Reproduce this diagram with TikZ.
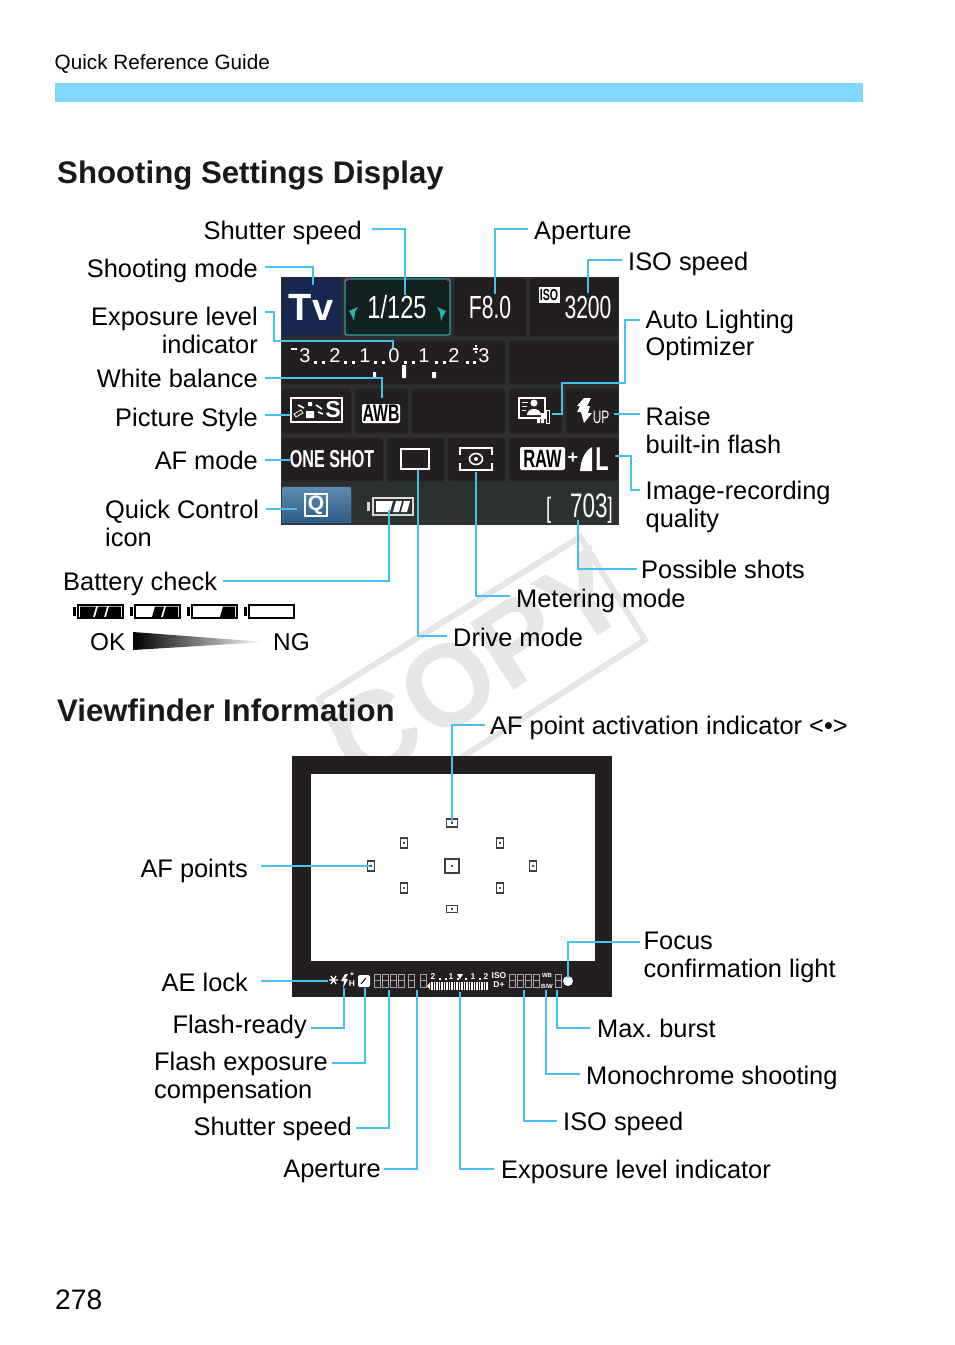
\documentclass[tikz,border=0pt]{standalone}
\usepackage{fontspec}
\setmainfont{Liberation Sans}
\newfontfamily\lcdfont[FakeStretch=0.66]{Liberation Sans}
\newfontfamily\lcdwide[FakeStretch=0.74]{Liberation Sans}
\usetikzlibrary{positioning, calc}
\definecolor{cyline}{HTML}{45C1EC}
\definecolor{barblue}{HTML}{80D8FF}
\definecolor{lcdback}{HTML}{2D3031}
\definecolor{lcdcell}{HTML}{231F20}
\definecolor{tvblue}{HTML}{17274F}
\definecolor{teal}{HTML}{2E9AA0}
\definecolor{tealbright}{HTML}{29B5B5}
\definecolor{tealdark}{HTML}{12211F}
\definecolor{stamp}{HTML}{E6E6E6}
\definecolor{qtop}{HTML}{5F8BB0}
\definecolor{qbot}{HTML}{2B5B85}
\tikzstyle{line} = [draw=cyline, line width=2.1pt]
\tikzstyle{lbl} = [inner sep=0pt, text height=18pt, text depth=0pt, font=\fontsize{25.4}{27.8}\selectfont]
\tikzstyle{lbltwo} = [inner sep=0pt, font=\fontsize{25.4}{27.8}\selectfont]
\tikzstyle{head} = [inner sep=0pt, anchor=base west, font=\fontsize{31.2}{36}\selectfont\bfseries, text=black!90]
\tikzstyle{lcd} = [inner sep=0pt, text=white]
\tikzstyle{cell} = [fill=lcdcell, draw=lcdcell!60!lcdback, line width=.6pt, rounded corners=2pt]
\tikzstyle{afpt} = [draw=black!75, line width=1.2pt, fill=white]
\tikzstyle{seg} = [draw=black!35, line width=.7pt]
\tikzstyle{tiny} = [inner sep=0pt, text=white, font=\fontsize{8.5}{8.5}\selectfont\bfseries]
\frenchspacing
\begin{document}
\begin{tikzpicture}[x=1pt, y=-1pt]
  \useasboundingbox (0,0) rectangle (954,1345);
  \fill[white] (0,0) rectangle (954,1345);
  %%% Stamp behind everything:
  \draw[stamp, line width=6pt] (319,699) -- (580,537) -- (645,640) -- (378,811) -- cycle;
  \node[inner sep=0pt, rotate=33, text=stamp, font=\fontsize{116}{116}\selectfont\bfseries] (stampword) at (478,666) {COPY};
  %%% Page head:
  \node[inner sep=0pt, anchor=base west, font=\fontsize{20.7}{24}\selectfont] (guide) at (54.5,69) {Quick Reference Guide};
  \fill[barblue] (55,83) rectangle (863,102);
  \node[head] (settings) at (57,183) {Shooting Settings Display};
  \node[head] (finder) at (57,721) {Viewfinder Information};
  \node[inner sep=0pt, anchor=base west, font=\fontsize{28.2}{32}\selectfont] (page) at (55,1309) {278};
  %%% Display cells:
  \fill[lcdback] (281,277) rectangle (619,525);
  \foreach \xa/\ya/\xb/\yb in {454/278/526/336, 530/278/618/336, 282/341/505/384, 509/341/618/384,
    282/389/351/433, 355/389/408/433, 412/389/505/433, 509/389/562/433, 566/389/618/433,
    282/438/383/481, 387/438/444/481, 448/438/505/481, 509/438/618/481}
    \draw[cell] (\xa,\ya) rectangle (\xb,\yb);
  \draw[cell, fill=tvblue] (282,278) rectangle (341,336);
  \draw[fill=tealdark, draw=teal, line width=1.4pt, rounded corners=2pt] (345,279) rectangle (450,335);
  \fill[magenta] (346,279) rectangle +(2,2) (447,279) rectangle +(2,2);
  \fill[tealbright] (349,311) -- (358,307) -- (355,312) -- (354,321) -- (352,316) -- cycle;
  \fill[tealbright] (446,311) -- (437,307) -- (440,312) -- (441,321) -- (443,316) -- cycle;
  %%% Top row:
  \node[lcd, font=\fontsize{38}{38}\selectfont\bfseries] (tv) at (311,307) {Tv};
  \node[lcd, font=\fontsize{32}{32}\selectfont\lcdwide] (time) at (397,307) {1/125};
  \node[lcd, font=\fontsize{32}{32}\selectfont\lcdfont] (fnum) at (490,307) {F8.0};
  \node[fill=white, inner sep=0pt, minimum width=21pt, minimum height=16pt, text=black, font=\fontsize{16}{16}\selectfont\lcdfont\bfseries] (isobox) at (549,295) {ISO};
  \node[lcd, font=\fontsize{32}{32}\selectfont\lcdfont] (isoval) at (588,307) {3200};
  %%% Exposure scale:
  \foreach \sx/\sd in {305/3, 335/2, 365/1, 394/0, 424/1, 454/2, 484/3}
    \node[lcd, font=\fontsize{20}{20}\selectfont] (sc\sx) at (\sx,356) {\sd};
  \foreach \sx in {315,323,345,353,375,383,405,413,436,444,467,474}
    \fill[white] (\sx-1,361) rectangle +(2.6,2.6);
  \fill[white] (291,348) rectangle +(6,1.8) (473,348) rectangle +(5,1.8);
  \fill[white] (475,351) rectangle +(1.8,2) (475,345) rectangle +(1.8,2);
  \fill[white] (373,372) rectangle (376,377) (402,365) rectangle (406,378) (432,372) rectangle (436,378);
  %%% Third row:
  \draw[white, line width=2.4pt] (291,398) rectangle (342,422);
  \node[lcd, font=\fontsize{23}{23}\selectfont\bfseries] (psletter) at (333,410) {S};
  \fill[white] (306,411) -- (314,411) -- (314,418) -- (306,418) -- cycle (308,402) rectangle +(4,4);
  \draw[white, line width=1.6pt] (298,405) -- (304,408) (316,405) -- (322,409) (318,412) -- (323,414);
  \draw[white, line width=.8pt] (294,414) -- (301,410) -- (303,413) -- (296,417) -- cycle;
  \node[fill=white, rounded corners=1.5pt, inner sep=0pt, minimum width=38pt, minimum height=19pt, text=black, font=\fontsize{24}{24}\selectfont\lcdfont\bfseries] (awb) at (381,413.5) {AWB};
  \draw[white, line width=1.2pt] (519,398) rectangle (545,418);
  \fill[white] (534,403) circle (3.5pt) (527,415) .. controls (527,407) and (541,407) .. (541,415) -- cycle;
  \draw[white, line width=1pt] (522,402) -- (528,402) (522,406) -- (527,406) (522,410) -- (526,410);
  \fill[white] (537,417) rectangle +(3,6) (541,413) rectangle +(3,10);
  \draw[white, line width=.7pt] (546,410) rectangle (549,423);
  \fill[white] (584,398) -- (591,398) -- (587,406) -- (590,406) -- (588,413) -- (592,413) -- (584,423) -- (581,412) -- (577,412) -- (580,406) -- (577,406) -- cycle;
  \node[lcd, font=\fontsize{18}{18}\selectfont\lcdfont] (flashup) at (601,417) {UP};
  %%% Fourth row:
  \node[lcd, font=\fontsize{24.5}{24.5}\selectfont\lcdfont\bfseries] (oneshot) at (332,459) {ONE SHOT};
  \draw[white, line width=2.8pt] (401,449) rectangle (429,469);
  \draw[white, line width=2pt] (460,455) -- (460,448) -- (492,448) -- (492,455) (460,463) -- (460,470) -- (492,470) -- (492,463);
  \draw[white, line width=1.6pt] (476,459) ellipse (6.5pt and 5.5pt);
  \fill[white] (476,459) circle (2pt);
  \node[fill=white, rounded corners=2pt, inner sep=0pt, minimum width=45pt, minimum height=23pt, text=black, font=\fontsize{25}{25}\selectfont\lcdfont\bfseries] (rawbox) at (542.5,458.5) {RAW};
  \node[lcd, font=\fontsize{18}{18}\selectfont\bfseries] (plus) at (573,458) {+};
  \fill[white] (580,471) .. controls (581,459) and (585,451) .. (592,447) -- (592,471) -- cycle;
  \node[lcd, font=\fontsize{33}{33}\selectfont\lcdfont\bfseries] (quall) at (602,459) {L};
  %%% Bottom row:
  \shade[top color=qtop, bottom color=qbot, draw=qtop, rounded corners=2pt] (282,487) rectangle (351,523);
  \draw[white, line width=1.6pt] (305,494) rectangle (327,516);
  \node[lcd, font=\fontsize{21}{21}\selectfont\bfseries] (qmark) at (316,505) {Q};
  \fill[white!85!black] (367,502) rectangle (370,511);
  \draw[white!85!black, line width=1.4pt] (373,498) rectangle (413,515);
  \fill[white] (376,501) -- (393,501) -- (390,512) -- (376,512) -- cycle;
  \foreach \bx in {396,404} \fill[white] (\bx,501) -- +(6,0) -- +(3,11) -- +(-3,11) -- cycle;
  \node[lcd, anchor=east, font=\fontsize{34}{34}\selectfont\lcdfont] (shots) at (613,509) {\fontsize{28}{28}\selectfont{[}\hspace{19pt}\fontsize{34}{34}\selectfont 703\fontsize{28}{28}\selectfont{]}};
  %%% Battery row:
  \foreach \bx/\nbar in {73/3, 130/2, 187/1, 244/0} {
    \fill[black] (\bx,607) rectangle +(3,9);
    \draw[black, line width=1.5pt] (\bx+5,605) rectangle (\bx+50,618);
    \ifnum\nbar>0 \fill[black] (\bx+36,606.5) -- (\bx+48,606.5) -- (\bx+48,617) -- (\bx+33,617) -- cycle; \fi
    \ifnum\nbar>1 \fill[black] (\bx+25,606.5) -- (\bx+34,606.5) -- (\bx+31,617) -- (\bx+22,617) -- cycle; \fi
    \ifnum\nbar>2 \fill[black] (\bx+7,606.5) -- (\bx+23,606.5) -- (\bx+20,617) -- (\bx+7,617) -- cycle; \fi
  }
  \shade[left color=black, right color=white] (133,632) -- (265,642) -- (133,650) -- cycle;
  \node[lbl, anchor=base west, font=\fontsize{24.4}{27}\selectfont] (okk) at (90,650) {OK};
  \node[lbl, anchor=base west, font=\fontsize{24.4}{27}\selectfont] (ngg) at (273,650) {NG};
  %%% Viewfinder:
  \fill[lcdcell] (292,756) rectangle (612,997);
  \fill[white] (311,774) rectangle (595,961);
  \foreach \fx/\fy/\fw/\fh in {452/823/11/8, 404/843/7/10, 500/843/7/10, 371/866/7/10, 533/866/7/10, 404/888/7/10, 500/888/7/10, 452/909/11/7, 452/866/14/14} {
    \draw[afpt] (\fx-\fw/2,\fy-\fh/2) rectangle (\fx+\fw/2,\fy+\fh/2);
    \fill[black!70] (\fx-.7,\fy-.7) rectangle +(1.4,1.4);
  }
  %%% Viewfinder strip:
  \draw[white, line width=1.3pt] (329,980) -- (338,980) (331,976) -- (336,984) (336,976) -- (331,984);
  \fill[white] (345,974) -- (348,974) -- (345,979) -- (348,979) -- (343,988) -- (344,981) -- (341,981) -- cycle;
  \node[tiny] (hold) at (352,984) {H};
  \node[tiny] (holdstar) at (352,976) {*};
  \fill[white, rounded corners=1.5pt] (358,975) rectangle (370,987);
  \draw[black, line width=1pt] (361,984) -- (366,978);
  \foreach \gx in {374,382,390,398,408,420,509,517,525,533,555} {
    \draw[seg] (\gx,974) rectangle +(6,13);
    \draw[seg] (\gx,980.5) -- +(6,0);
  }
  \foreach \sx/\sd in {433/2, 451/1, 473/1, 486/2}
    \node[tiny] (vs\sx) at (\sx,977) {\sd};
  \foreach \sx in {439,445,457,465,479}
    \fill[white] (\sx,978) rectangle +(1.6,1.6);
  \fill[white] (457,974) -- (463,974) -- (460,979) -- cycle;
  \foreach \sx in {432,434.5,...,487}
    \draw[white, line width=1.3pt] (\sx,982) -- (\sx,990);
  \fill[white] (430,982.5) -- (430,989.5) -- (427,986) -- cycle;
  \node[tiny] (vfiso) at (499,976) {ISO};
  \node[tiny] (vfdp) at (499,985) {D+};
  \node[tiny, font=\fontsize{6}{6}\selectfont\bfseries] (vfwb) at (547,975) {WB};
  \node[tiny, font=\fontsize{6}{6}\selectfont\bfseries] (vfbw) at (547,986) {B/W};
  \fill[white] (568,981) circle (5pt);
  %%% Labels, upper part:
  \node[lbl, anchor=base east] (shutter) at (362,239) {Shutter speed};
  \node[lbl, anchor=base west] (aperture) at (534,239) {Aperture};
  \node[lbl, anchor=base west] (isospeed) at (628,270) {ISO speed};
  \node[lbl, anchor=base east] (mode) at (258,277) {Shooting mode};
  \node[lbltwo, anchor=north east, align=right] (explevel) at (258,307) {Exposure level\\indicator};
  \node[lbl, anchor=base east] (white) at (258,387) {White balance};
  \node[lbl, anchor=base east] (style) at (258,426) {Picture Style};
  \node[lbl, anchor=base east] (afmode) at (258,469) {AF mode};
  \node[lbltwo, anchor=north west, align=left] (quick) at (105,500) {Quick Control\\icon};
  \node[lbl, anchor=base west] (battery) at (63,590) {Battery check};
  \node[lbltwo, anchor=north west, align=left] (alo) at (645.5,309.5) {Auto Lighting\\Optimizer};
  \node[lbltwo, anchor=north west, align=left] (raise) at (645.5,407) {Raise\\built-in flash};
  \node[lbltwo, anchor=north west, align=left] (quality) at (645.5,481) {Image-recording\\quality};
  \node[lbl, anchor=base west] (possible) at (641,578) {Possible shots};
  \node[lbl, anchor=base west] (metering) at (516,607) {Metering mode};
  \node[lbl, anchor=base west] (drive) at (453,646) {Drive mode};
  %%% Labels, lower part:
  \node[lbl, anchor=base west] (activ) at (490,734) {AF point activation indicator <•>};
  \node[lbl, anchor=base east] (points) at (248,877) {AF points};
  \node[lbltwo, anchor=north west, align=left] (focus) at (643.5,932) {Focus\\confirmation light};
  \node[lbl, anchor=base east] (aelock) at (248,991) {AE lock};
  \node[lbl, anchor=base east] (ready) at (307,1033) {Flash-ready};
  \node[lbltwo, anchor=north west, align=left] (fec) at (154,1052) {Flash exposure\\compensation};
  \node[lbl, anchor=base east] (vfshutter) at (352,1135) {Shutter speed};
  \node[lbl, anchor=base east] (vfaper) at (381,1177) {Aperture};
  \node[lbl, anchor=base west] (burst) at (597,1037) {Max. burst};
  \node[lbl, anchor=base west] (mono) at (586,1084) {Monochrome shooting};
  \node[lbl, anchor=base west] (vfspeed) at (563,1130) {ISO speed};
  \node[lbl, anchor=base west] (vflevel) at (501,1178) {Exposure level indicator};
  %%% Points the lines run to:
  \coordinate (ptshutter) at (405,295);
  \coordinate (ptaper) at (495,294);
  \coordinate (ptiso) at (588,293);
  \coordinate (ptmode) at (313,285);
  \coordinate (ptexp) at (393,348);
  \coordinate (ptwhite) at (382,398);
  \coordinate (ptstyle) at (290,415);
  \coordinate (ptaf) at (290,460);
  \coordinate (ptquick) at (297,509);
  \coordinate (ptbatt) at (389,510);
  \coordinate (ptdrive) at (418,470);
  \coordinate (ptmeter) at (476,472);
  \coordinate (ptshots) at (578,520);
  \coordinate (ptqual) at (615,456);
  \coordinate (ptraise) at (614,414);
  \coordinate (ptalo) at (552,414);
  \coordinate (ptactiv) at (452,822);
  \coordinate (ptpoints) at (370,866);
  \coordinate (ptfocus) at (568,978);
  \coordinate (ptae) at (328,981);
  \coordinate (ptready) at (344,988);
  \coordinate (ptfec) at (365,988);
  \coordinate (ptvfs) at (389,990);
  \coordinate (ptvfa) at (417,990);
  \coordinate (ptlevel) at (460,992);
  \coordinate (ptvfi) at (524,990);
  \coordinate (ptmono) at (546,990);
  \coordinate (ptburst) at (557,990);
  %%% Lines:
  \path [line] ([shift={(10pt,1pt)}]shutter.east) -| (ptshutter);
  \path [line] ([shift={(-6pt,1pt)}]aperture.west) -| (ptaper);
  \path [line] ([shift={(-6pt,1pt)}]isospeed.west) -| (ptiso);
  \path [line] ([shift={(7pt,1pt)}]mode.east) -| (ptmode);
  \path [line] ([shift={(7pt,-5pt)}]explevel.north east) -- ++(9,0) |- (384,341) -| (ptexp);
  \path [line] ([xshift=7pt]white.east) -| (ptwhite);
  \path [line] ([shift={(7pt,2pt)}]style.east) -- (ptstyle);
  \path [line] ([xshift=7pt]afmode.east) -- (ptaf);
  \path [line] ([shift={(7pt,-9pt)}]quick.north east) -- (ptquick);
  \path [line] ([xshift=6pt]battery.east) -| (ptbatt);
  \path [line] ([shift={(-6pt,1pt)}]drive.west) -| (ptdrive);
  \path [line] ([shift={(-6pt,2pt)}]metering.west) -| (ptmeter);
  \path [line] ([xshift=-4pt]possible.west) -| (ptshots);
  \path [line] ([shift={(-5.5pt,-9pt)}]quality.north west) -- ++(-9,0) |- (ptqual);
  \path [line] (raise.north west |- ptraise) ++(-5.5,0) -- (ptraise);
  \path [line] ([shift={(-5.5pt,-10.5pt)}]alo.north west) -- ++(-15,0) |- (562,383) |- (ptalo);
  \path [line] ([xshift=-5pt]activ.west) -| (ptactiv);
  \path [line] ([shift={(13pt,2pt)}]points.east) -- (ptpoints);
  \path [line] ([shift={(-3.5pt,-10pt)}]focus.north west) -| (ptfocus);
  \path [line] ([shift={(13pt,1pt)}]aelock.east) -- (ptae);
  \path [line] ([shift={(4pt,-4pt)}]ready.east) -| (ptready);
  \path [line] ([shift={(4pt,-11pt)}]fec.north east) -| (ptfec);
  \path [line] ([shift={(4pt,-2pt)}]vfshutter.east) -| (ptvfs);
  \path [line] ([shift={(3pt,-1pt)}]vfaper.east) -| (ptvfa);
  \path [line] ([xshift=-7pt]vflevel.west) -| (ptlevel);
  \path [line] ([xshift=-6pt]vfspeed.west) -| (ptvfi);
  \path [line] ([shift={(-6pt,1pt)}]mono.west) -| (ptmono);
  \path [line] ([xshift=-7pt]burst.west) -| (ptburst);
\end{tikzpicture}
\end{document}
